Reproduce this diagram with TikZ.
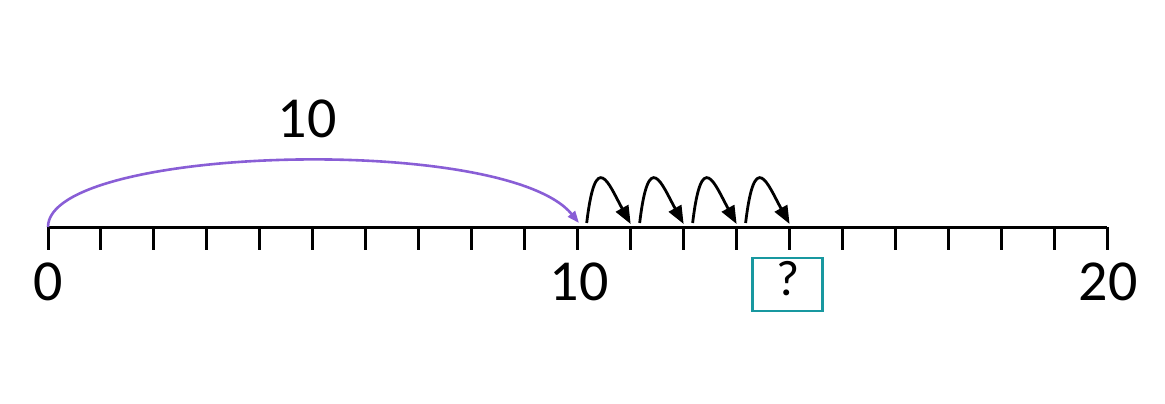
\documentclass[tikz,border=0pt]{standalone}
\usepackage{fontspec}
\setmainfont{Carlito}
\usetikzlibrary{arrows.meta,calc}
\definecolor{arcpurple}{RGB}{137,94,214}
\definecolor{boxteal}{RGB}{24,152,160}
\tikzset{
  axisline/.style={line width=3pt, black},
  tickline/.style={line width=3pt, black},
  numlabel/.style={font=\fontsize{58}{60}\selectfont, anchor=base, inner sep=0pt},
  hoparrow/.style={line width=2.8pt, black, -{Triangle[length=18pt,width=14pt]}},
  bigarrow/.style={line width=2.6pt, arcpurple, -{Triangle[length=12pt,width=9pt]}},
  answerbox/.style={draw=boxteal, line width=2.6pt, minimum width=70pt, minimum height=53pt, inner sep=0pt},
}
\begin{document}
\begin{tikzpicture}[x=1pt,y=-1pt]
\useasboundingbox (0,0) rectangle (1165,404);
\foreach \i in {0,...,20} {
  \coordinate (t\i) at ({48+52.97*\i},227);
}
\draw[axisline] (t0) -- (t20);
\foreach \i in {0,...,20} {
  \draw[tickline] (t\i) -- ++(0,23);
}
\node[numlabel] (l0) at (48,300) {0};
\node[numlabel] (l10) at (579,300) {10};
\node[numlabel] (l20) at (1108,300) {20};
\node[numlabel] (top) at (307,137) {10};
\coordinate (arcend) at (579,223);
\draw[bigarrow] (t0) .. controls (48,146) and (505,133) .. (arcend);
\foreach \a/\b in {10/11,11/12,12/13,13/14} {
  \coordinate (hs\a) at ($(t\a)+(9,-4)$);
  \coordinate (he\a) at ($(t\b)+(0,-3)$);
}
\foreach \a in {10,11,12,13} {
  \draw[hoparrow] (hs\a) .. controls +(9,-76) and +(-22,-40) .. (he\a);
}
\node[answerbox] (ans) at (787.7,284.5) {};
\node[font=\fontsize{50}{52}\selectfont, anchor=base, inner sep=0pt] (q) at (787.7,295) {?};
\end{tikzpicture}
\end{document}
